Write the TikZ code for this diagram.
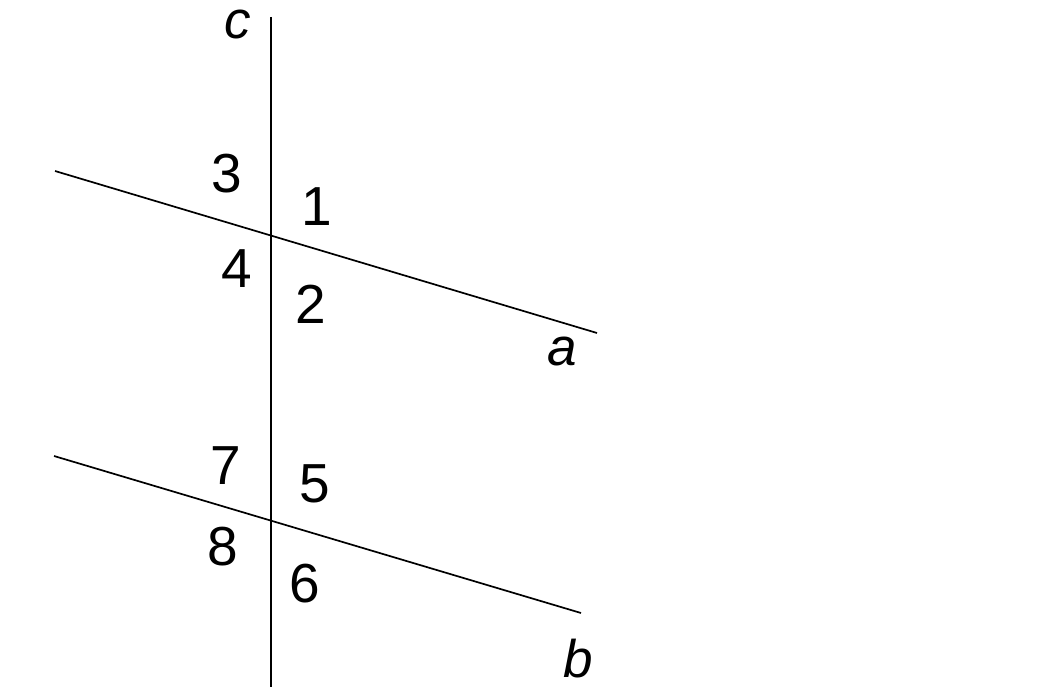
\documentclass[tikz,border=0pt]{standalone}
\usepackage{fontspec}
\setmainfont{Liberation Sans}
\begin{document}
\begin{tikzpicture}[x=1pt,y=-1pt,
  ln/.style={line width=1.7pt,black},
  lab/.style={inner sep=0pt,anchor=base,font=\fontsize{55}{60}\selectfont},
  ilab/.style={lab,font=\fontsize{53}{60}\selectfont\itshape}]
\useasboundingbox (0,0) rectangle (1056,687);
\coordinate (ctop) at (271,17);
\coordinate (cbot) at (271,687);
\coordinate (as) at (55,171);
\coordinate (ae) at (597,333);
\coordinate (bs) at (54,456);
\coordinate (be) at (581,613);
\draw[ln] (ctop) -- (cbot);
\draw[ln] (as) -- (ae);
\draw[ln] (bs) -- (be);
\node[ilab] (lc) at (238,39) {c};
\node[ilab] (la) at (562,365) {a};
\node[ilab] (lb) at (578,677) {b};
\node[lab] (n3) at (227,193) {3};
\node[lab] (n1) at (317,225) {1};
\node[lab] (n4) at (237,287) {4};
\node[lab] (n2) at (311,323) {2};
\node[lab] (n7) at (226,484) {7};
\node[lab] (n5) at (315,502) {5};
\node[lab] (n8) at (223,565) {8};
\node[lab] (n6) at (305,602) {6};
\end{tikzpicture}
\end{document}
